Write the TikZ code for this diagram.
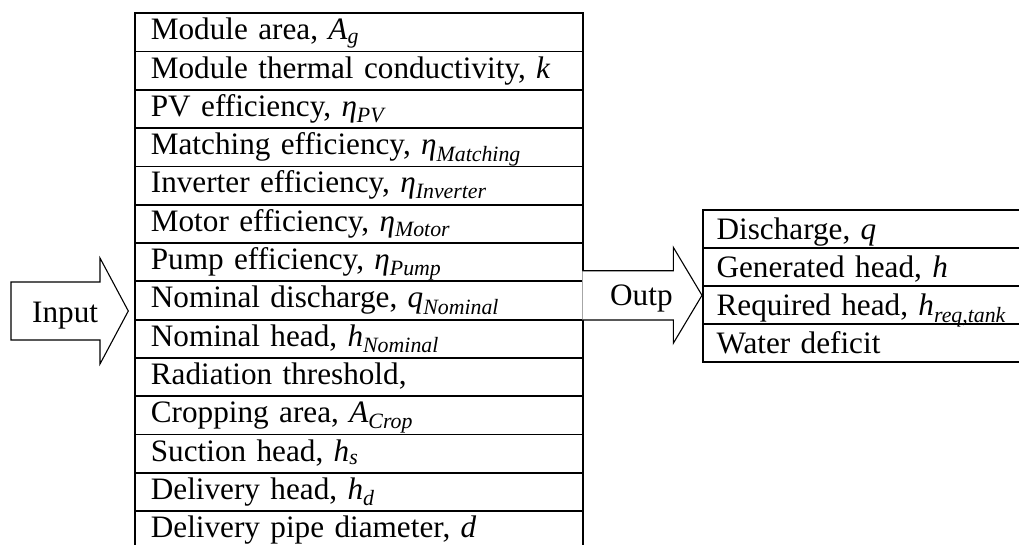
\documentclass[tikz,border=0pt]{standalone}
\usepackage{fontspec}
\setmainfont{Liberation Serif}
\usetikzlibrary{positioning}
\newcommand{\sbi}[1]{\textsubscript{\textit{#1}}}
\tikzset{
  lrow/.style={draw, line width=1.8pt, anchor=north west, inner xsep=16pt, inner ysep=0pt,
    text width=416pt, align=left, text height=26.5pt, text depth=11.8pt,
    font=\fontsize{31.2}{36}\selectfont},
  rrow/.style={draw, line width=1.8pt, anchor=north west, inner xsep=14pt, inner ysep=0pt,
    text width=300pt, align=left, text height=29.5pt, text depth=8.5pt,
    font=\fontsize{31.2}{36}\selectfont},
  arrowshape/.style={draw, line width=1.1pt, fill=white},
  lbl/.style={anchor=base west, inner sep=0pt, font=\fontsize{31.2}{36}\selectfont}
}
\begin{document}
\begin{tikzpicture}[x=1pt,y=-1pt]
\useasboundingbox (0,0) rectangle (1019,544);
% left table
\foreach \i/\t in {0/{Module area, \textit{A}\sbi{g}},
  1/{Module thermal conductivity, \textit{k}},
  2/{PV efficiency, \textit{η}\sbi{PV}},
  3/{Matching efficiency, \textit{η}\sbi{Matching}},
  4/{Inverter efficiency, \textit{η}\sbi{Inverter}},
  5/{Motor efficiency, \textit{η}\sbi{Motor}},
  6/{Pump efficiency, \textit{η}\sbi{Pump}},
  7/{Nominal discharge, \textit{q}\sbi{Nominal}},
  8/{Nominal head, \textit{h}\sbi{Nominal}},
  9/{Radiation threshold,},
  10/{Cropping area, \textit{A}\sbi{Crop}},
  11/{Suction head, \textit{h}\sbi{s}},
  12/{Delivery head, \textit{h}\sbi{d}},
  13/{Delivery pipe diameter, \textit{d}}}
  \node[lrow] (L\i) at (134,12.3+38.3*\i) {\t};
% right table
\foreach \i/\t in {0/{Discharge, \textit{q}},
  1/{Generated head, \textit{h}},
  2/{Required head, \textit{h}\sbi{req,tank}},
  3/{Water deficit}}
  \node[rrow] (R\i) at (701.7,209.3+38*\i) {\t};
% input arrow
\coordinate (inTip) at (128.3,311);
\draw[arrowshape] (11,282) -- (100,282) -- (100,258) -- (inTip) -- (100,364) -- (100,340) -- (11,340) -- cycle;
\node[lbl] (inLabel) at (32,322) {Input};
% output arrow (starts at the left table's right edge)
\coordinate (outTip) at (702,295.3);
\draw[arrowshape] (582.3,270.7) -- (673.3,270.7) -- (673.3,247.3) -- (outTip) -- (673.3,343.3) -- (673.3,320) -- (582.3,320);
\node[lbl] (outLabel) at (610,305.7) {Outp};
\end{tikzpicture}
\end{document}
